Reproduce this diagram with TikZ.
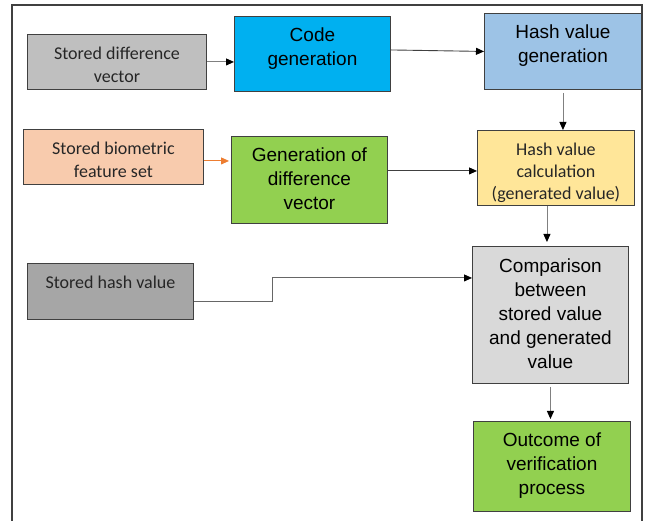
\documentclass[tikz,border=0pt]{standalone}
\usepackage{fontspec}
\setmainfont{Liberation Sans}
\newfontfamily\calibrifont{Carlito}
\usetikzlibrary{positioning}
\usetikzlibrary{arrows.meta}
\definecolor{boxline}{HTML}{404040}
\definecolor{linkgray}{HTML}{808080}
\definecolor{textgray}{HTML}{262626}
\definecolor{fillsilver}{HTML}{BFBFBF}
\definecolor{fillcyan}{HTML}{00B0F0}
\definecolor{fillsky}{HTML}{9DC3E6}
\definecolor{fillpeach}{HTML}{F8CBAD}
\definecolor{fillgreen}{HTML}{92D050}
\definecolor{fillsand}{HTML}{FFE699}
\definecolor{fillgray}{HTML}{A6A6A6}
\definecolor{filllight}{HTML}{D9D9D9}
\definecolor{linkorange}{HTML}{ED7D31}
\newcommand{\droptext}[1]{\rule{0pt}{#1}}
\tikzset{
        box/.style={
          draw=boxline, line width=0.9pt, align=center,
          inner sep=0pt, anchor=north west
          },
        arialbox/.style={box, font=\fontsize{19}{24}\selectfont, text=black},
        calibribox/.style={box, font=\calibrifont\fontsize{18}{23}\selectfont, text=textgray},
        link/.style={draw=linkgray, line width=0.9pt,
          -{Triangle[length=8pt, width=7pt, color=black]}},
}

\begin{document}
\begin{tikzpicture}[x=1pt, y=-1pt]
      \useasboundingbox (0,0) rectangle (646,521);
      % outer frame, open at the bottom
      \draw[boxline, line width=1.3pt] (12,521) -- (12,5) -- (642,5) -- (642,521);

      % INPUTS (left column)
      \node[calibribox, fill=fillsilver, minimum width=179pt, minimum height=55pt] (storeddiff) at (27,34) {\droptext{18pt}Stored difference\\vector};
      \node[calibribox, fill=fillpeach, minimum width=180pt, minimum height=55pt] (storedbio) at (23,129) {\droptext{19pt}Stored biometric\\feature set};
      \node[calibribox, fill=fillgray, minimum width=166pt, minimum height=56pt, text depth=18pt] (storedhash) at (27,263) {Stored hash value};

      % PROCESSING (middle column)
      \node[arialbox, fill=fillcyan, minimum width=156pt, minimum height=75pt, text depth=15pt] (codegen) at (234,16) {Code\\generation};
      \node[arialbox, fill=fillgreen, minimum width=156pt, minimum height=87pt, text depth=2pt] (diffgen) at (231,136) {Generation of\\difference\\vector};

      % HASHING AND VERIFICATION (right column)
      \node[arialbox, fill=fillsky, minimum width=157pt, minimum height=76pt, text depth=16pt] (hashgen) at (484,13) {Hash value\\generation};
      \node[calibribox, fill=fillsand, minimum width=157pt, minimum height=75pt, font=\calibrifont\fontsize{18}{22}\selectfont] (hashcalc) at (477,130) {\droptext{22pt}Hash value\\calculation\\(generated value)};
      \node[arialbox, fill=filllight, minimum width=156pt, minimum height=137pt, text depth=2pt] (compare) at (472,246) {Comparison\\between\\stored value\\and generated\\value};
      \node[arialbox, fill=fillgreen, minimum width=157pt, minimum height=90pt, text depth=6pt] (outcome) at (473,421) {Outcome of\\verification\\process};

      % WIRING
      \draw[link] (storeddiff.east) -- (storeddiff.east -| codegen.west);
      \draw[link, draw=boxline] ([yshift=4pt]codegen.east) -- (hashgen.west);
      \draw[link, shorten <=3pt] (hashgen.south) -- (hashgen.south |- hashcalc.north);
      \draw[link, draw=linkorange, -{Triangle[length=8pt, width=7pt, color=linkorange]}, shorten >=2pt]
        ([yshift=-4pt]storedbio.east) -- ([yshift=-4pt]storedbio.east -| diffgen.west);
      \draw[link, draw=boxline] ([yshift=9pt]diffgen.east) -- ([yshift=-3pt]hashcalc.west);
      \draw[link, shorten >=4pt] ([xshift=-9pt]hashcalc.south) -- ([xshift=-9pt]hashcalc.south |- compare.north);
      \draw[link, draw=boxline!80] ([yshift=-10pt]storedhash.east) -- ++(79,0) |- ([yshift=37pt]compare.west);
      \draw[link, shorten <=3pt, shorten >=2pt] (compare.south) -- (compare.south |- outcome.north);
\end{tikzpicture}
\end{document}
